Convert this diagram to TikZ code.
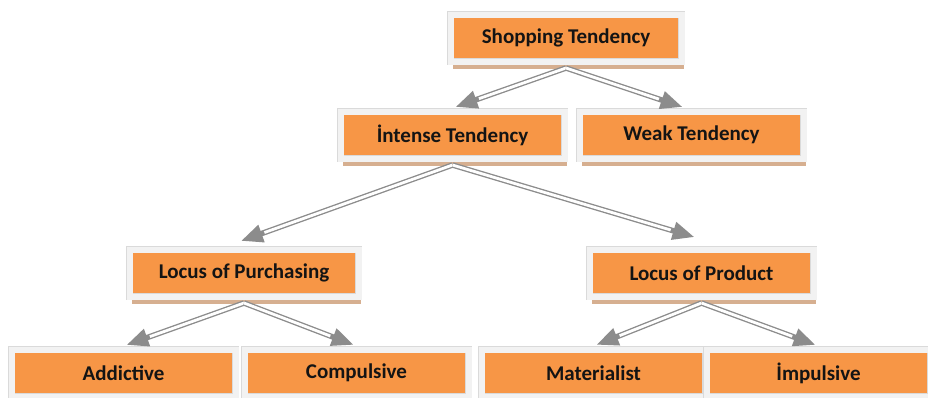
\documentclass[tikz,border=0pt]{standalone}
\usepackage{fontspec}
\setmainfont{Carlito}
\usepackage{tikz}
\usepackage{xcolor}
\usetikzlibrary{arrows.meta,shadows}

\definecolor{boxorange}{HTML}{F79646}
\definecolor{framegray}{HTML}{F2F2F2}
\definecolor{edgegray}{HTML}{DADADA}
\definecolor{shadowbrown}{HTML}{D6AF90}
\definecolor{linkgray}{HTML}{8C8C8C}
\definecolor{textdark}{HTML}{141414}

\tikzset{
  tbox/.style={fill=boxorange, draw=edgegray, double=framegray, double distance=6pt,
    line width=0.5pt, outer sep=3.5pt, minimum width=224pt, minimum height=47pt,
    font=\fontsize{21}{24}\selectfont\bfseries, text=textdark,
    drop shadow={shadow xshift=2pt, shadow yshift=-7pt, fill=shadowbrown, opacity=1}},
  link/.style={draw=linkgray, line width=5.5pt, shorten >=3pt,
    -{Triangle[length=22pt 0 0,width=17pt 0 0]},
    postaction={draw=white, line width=2.8pt, shorten >=28pt, -}},
}

\begin{document}
\begin{tikzpicture}[x=1pt,y=-1pt]
\useasboundingbox (0,0) rectangle (928,397);
\fill[white] (0,0) rectangle (928,397);
% top level
\node[tbox, minimum width=231pt] (shop) at (566,38) {Shopping Tendency};
% second level
\node[tbox] (intense) at (452.5,135) {İntense Tendency};
\node[tbox] (weak) at (691.5,135) {Weak Tendency};
% third level
\node[tbox, minimum width=229pt] (purch) at (244,273) {Locus of Purchasing};
\node[tbox] (prod) at (701.5,273) {Locus of Product};
% bottom level
\node[tbox] (addict) at (123.5,373) {Addictive};
\node[tbox] (compuls) at (356.5,373) {Compulsive};
\node[tbox] (mater) at (593.5,373) {Materialist};
\node[tbox] (impuls) at (818.5,373) {İmpulsive};
% arrows
\draw[link] ([yshift=-3pt]shop.south) -- (intense.north);
\draw[link] ([yshift=-3pt]shop.south) -- ([xshift=-6pt]weak.north);
\draw[link] ([yshift=-3pt]intense.south) -- ([xshift=-6pt,yshift=4pt]purch.north);
\draw[link] ([yshift=-3pt]intense.south) -- ([xshift=-4pt,yshift=8pt]prod.north);
\draw[link] ([yshift=-3pt]purch.south) -- (addict.north);
\draw[link] ([yshift=-3pt]purch.south) -- (compuls.north);
\draw[link] ([yshift=-3pt]prod.south) -- (mater.north);
\draw[link] ([yshift=-3pt]prod.south) -- (impuls.north);
\end{tikzpicture}
\end{document}
